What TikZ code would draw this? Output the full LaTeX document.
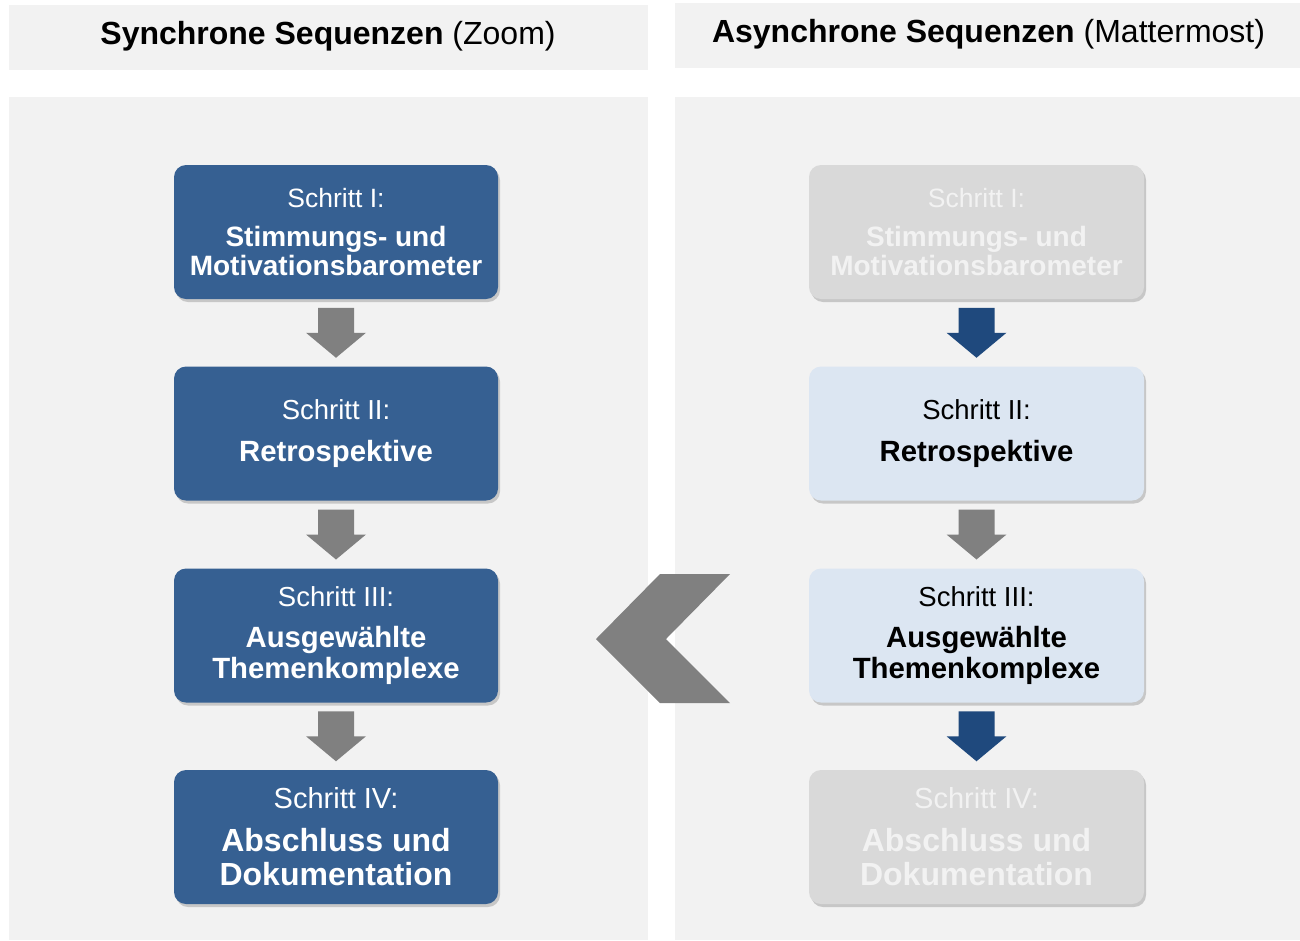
\documentclass[tikz,border=0pt]{standalone}
\usepackage{fontspec}
\setmainfont{Liberation Sans}
\usetikzlibrary{shadows,calc}
\definecolor{panel}{RGB}{242,242,242}
\definecolor{darkbox}{RGB}{54,96,146}
\definecolor{darkarrow}{RGB}{31,73,125}
\definecolor{grayarrow}{RGB}{128,128,128}
\definecolor{lightbox}{RGB}{220,230,242}
\definecolor{graybox}{RGB}{217,217,217}
\definecolor{graytext}{RGB}{242,242,242}
\tikzset{
  stepbox/.style={rounded corners=12pt, minimum height=134pt, inner sep=0pt, align=center,
    drop shadow={shadow xshift=2pt, shadow yshift=-3pt, opacity=.3, fill=black!60}},
  leftbox/.style={stepbox, fill=darkbox, text=white, minimum width=324pt},
  lightstep/.style={stepbox, fill=lightbox, text=black, minimum width=335pt},
  graystep/.style={stepbox, fill=graybox, text=graytext, minimum width=335pt},
  sizeA/.style={font=\fontsize{28}{29}\selectfont},
  sizeB/.style={font=\fontsize{29.3}{31}\selectfont},
  sizeC/.style={font=\fontsize{32}{34}\selectfont},
  panelbox/.style={fill=panel, draw=none},
  headtext/.style={font=\fontsize{32}{36}\selectfont, text=black},
}
\newcommand{\blockarrow}[3]{% top node, bottom node, colour
  \path (#1.south) -- (#2.north) coordinate[pos=.5] (m);
  \fill[#3] ($(m)+(-18,-25)$) -- ($(m)+(18,-25)$) -- ($(m)+(18,0)$) -- ($(m)+(30,0)$)
    -- ($(m)+(0,25)$) -- ($(m)+(-30,0)$) -- ($(m)+(-18,0)$) -- cycle;
}
\newcommand{\stepA}{{\fontsize{26.5}{29}\selectfont Schritt I:}\\[10pt]\textbf{Stimmungs- und}\\\textbf{Motivationsbarometer}}
\newcommand{\stepB}{{\fontsize{27.5}{29}\selectfont Schritt II:}\\[11pt]\textbf{Retrospektive}}
\newcommand{\stepC}{{\fontsize{27.5}{29}\selectfont Schritt III:}\\[10pt]\textbf{Ausgewählte}\\\textbf{Themenkomplexe}}
\newcommand{\stepD}{{\fontsize{29}{31}\selectfont Schritt IV:}\\[9pt]\textbf{Abschluss und}\\\textbf{Dokumentation}}
\begin{document}
\begin{tikzpicture}[x=1pt,y=-1pt]
\useasboundingbox (0,0) rectangle (1300,940);
\fill[white] (0,0) rectangle (1300,940);
% headers
\fill[panelbox] (9,5) rectangle (648,70);
\fill[panelbox] (675,3) rectangle (1300,68);
\node[headtext] (h1) at (328,36) {\textbf{Synchrone Sequenzen} (Zoom)};
\node[headtext] (h2) at (988.5,34) {\textbf{Asynchrone Sequenzen} (Mattermost)};
% panels
\fill[panelbox] (9,97) rectangle (648,940);
\fill[panelbox] (675,97) rectangle (1300,940);
% left column
\node[leftbox,sizeA] (l1) at (336,232) {\stepA};
\node[leftbox,sizeB] (l2) at (336,433.5) {\stepB};
\node[leftbox,sizeB] (l3) at (336,635.5) {\stepC};
\node[leftbox,sizeC] (l4) at (336,837) {\stepD};
% right column
\node[graystep,sizeA] (r1) at (976.5,232) {\stepA};
\node[lightstep,sizeB] (r2) at (976.5,433.5) {\stepB};
\node[lightstep,sizeB] (r3) at (976.5,635.5) {\stepC};
\node[graystep,sizeC] (r4) at (976.5,837) {\stepD};
% arrows
\blockarrow{l1}{l2}{grayarrow}
\blockarrow{l2}{l3}{grayarrow}
\blockarrow{l3}{l4}{grayarrow}
\blockarrow{r1}{r2}{darkarrow}
\blockarrow{r2}{r3}{grayarrow}
\blockarrow{r3}{r4}{darkarrow}
% chevron
\fill[grayarrow] (660,574) -- (730,574) -- (666,639) -- (730,703) -- (660,703) -- (596,639) -- cycle;
\end{tikzpicture}
\end{document}
